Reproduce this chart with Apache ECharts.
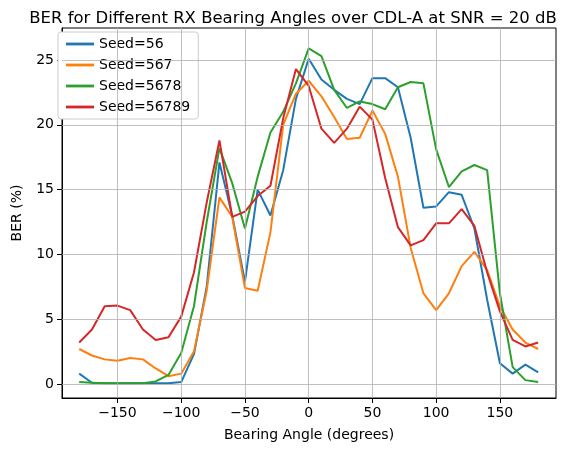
<!DOCTYPE html>
<html>
<head>
<meta charset="utf-8">
<script src="https://cdn.jsdelivr.net/npm/echarts@6/dist/echarts.min.js"></script>
<style>html,body{margin:0;padding:0;background:#fff}#chart{width:586px;height:454px}</style>
</head>
<body>
<div id="chart"></div>
<script>
const angles = [];
for (let a = -180; a <= 180; a += 10) angles.push(a);
const xTicks = [-150, -100, -50, 0, 50, 100, 150];
const yTicks = [0, 5, 10, 15, 20, 25];

const seed56 = [0.8,0.1,0.05,0.05,0.05,0.05,0.05,0.05,0.15,2.3,7.5,17.1,13,7.9,15,13,16.5,22,25.1,23.5,22.7,22,21.6,23.6,23.6,22.9,19,13.6,13.7,14.8,14.6,12,6.5,1.6,0.8,1.5,0.9];
const seed567 = [2.7,2.2,1.9,1.8,2.0,1.9,1.2,0.6,0.8,2.5,7.2,14.4,12.9,7.4,7.2,11.7,20,22.4,23.4,22.2,20.6,18.9,19,21.1,19.3,16,10.5,7,5.7,7,9.1,10.2,8.8,6,4.2,3.2,2.7];
const seed5678 = [0.15,0.1,0.05,0.05,0.05,0.05,0.2,0.7,2.4,6,12.5,18.2,15.5,12,16,19.4,21,23.2,25.9,25.3,22.7,21.3,21.8,21.6,21.2,22.9,23.3,23.2,18.1,15.2,16.4,16.9,16.5,7,1.3,0.3,0.15];
const seed56789 = [3.2,4.2,6,6.05,5.7,4.2,3.4,3.6,5.2,8.6,14,18.8,12.9,13.3,14.5,15.3,20.5,24.3,23,19.7,18.6,19.7,21.4,20.4,15.9,12.1,10.7,11.1,12.4,12.4,13.5,12.2,8.6,5.6,3.4,2.9,3.2];

const names = ['Seed=56', 'Seed=567', 'Seed=5678', 'Seed=56789'];
const colors = ['#1f77b4', '#ff7f0e', '#2ca02c', '#d62728'];
const data = [seed56, seed567, seed5678, seed56789];

const font = 'DejaVu Sans';
const series = data.map((vals, i) => ({
  name: names[i], type: 'line', showSymbol: false, z: 3,
  data: vals.map((v, j) => [angles[j], v]),
  lineStyle: { width: 2, color: colors[i] }, itemStyle: { color: colors[i] }
}));
// grid lines
series.push({
  type: 'line', data: [], silent: true, z: 1,
  markLine: {
    symbol: 'none', silent: true, label: { show: false },
    lineStyle: { color: '#b0b0b0', width: 0.8, type: 'solid' },
    data: xTicks.map(v => ({ xAxis: v })).concat(yTicks.map(v => ({ yAxis: v })))
  }
});

const chart = echarts.init(document.getElementById('chart'));
chart.setOption({
  animation: false,
  title: { text: 'BER for Different RX Bearing Angles over CDL-A at SNR = 20 dB', left: 'center', top: 5,
    textStyle: { fontFamily: font, fontSize: 16.5, fontWeight: 'normal', color: '#000' } },
  legend: { left: 58, top: 32, orient: 'vertical', itemWidth: 28, itemGap: 7, data: names,
    icon: 'path://M0,0 L10,0 L10,1 L0,1 Z',
    textStyle: { fontFamily: font, fontSize: 14, color: '#000' },
    backgroundColor: '#fff', borderColor: '#ccc', borderWidth: 1, borderRadius: 3, padding: [5, 8] },
  grid: { left: 62, right: 30, top: 28, bottom: 56 },
  xAxis: { type: 'value', min: -193.5, max: 194,
    name: 'Bearing Angle (degrees)', nameLocation: 'middle', nameGap: 30,
    nameTextStyle: { fontFamily: font, fontSize: 14, color: '#000' },
    axisLine: { onZero: false, lineStyle: { color: '#000' } },
    axisTick: { customValues: xTicks, lineStyle: { color: '#000' } },
    axisLabel: { customValues: xTicks, fontFamily: font, fontSize: 14, color: '#000',
      formatter: v => String(v).replace('-', '\u2212') },
    splitLine: { show: false } },
  yAxis: { type: 'value', min: -1.08, max: 27.47,
    name: 'BER (%)', nameLocation: 'middle', nameGap: 38,
    nameTextStyle: { fontFamily: font, fontSize: 14, color: '#000' },
    axisLine: { show: true, onZero: false, lineStyle: { color: '#000' } },
    axisTick: { show: true, customValues: yTicks, lineStyle: { color: '#000' } },
    axisLabel: { customValues: yTicks, fontFamily: font, fontSize: 14, color: '#000' },
    splitLine: { show: false } },
  series: series
});
// box frame top/right
chart.setOption({ graphic: [{ type: 'rect', shape: { x: 62, y: 28, width: 494, height: 370 },
  style: { fill: 'none', stroke: '#000', lineWidth: 1 }, silent: true, z: 0 }] });
</script>
</body>
</html>
